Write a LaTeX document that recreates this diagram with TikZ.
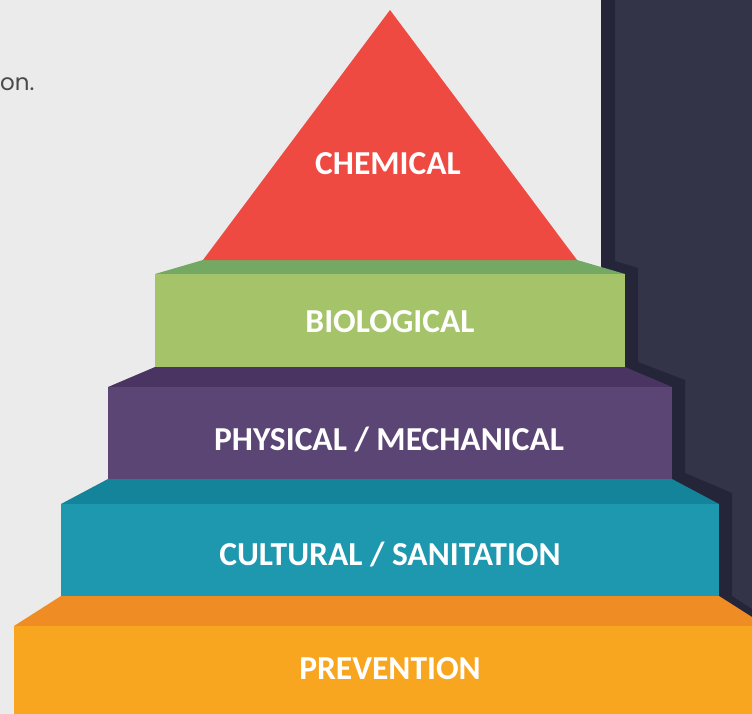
\documentclass[tikz,border=0pt]{standalone}
\usepackage{fontspec}
\setmainfont{Carlito}
\newfontfamily\notefont{Poppins}

\definecolor{bgcol}{HTML}{EBEBEB}
\definecolor{panel}{HTML}{343448}
\definecolor{panelshadow}{HTML}{25253A}
\definecolor{chemred}{HTML}{EF4A42}
\definecolor{biofront}{HTML}{A5C46A}
\definecolor{biotop}{HTML}{74A964}
\definecolor{physfront}{HTML}{5B4574}
\definecolor{phystop}{HTML}{4A3462}
\definecolor{cultfront}{HTML}{1E98AE}
\definecolor{culttop}{HTML}{13849A}
\definecolor{prevfront}{HTML}{F8A51F}
\definecolor{prevtop}{HTML}{EF8C24}
\definecolor{notegrey}{HTML}{4A4A4A}

\begin{document}
\begin{tikzpicture}[x=1pt,y=-1pt,
  tierlabel/.style={text=white,inner sep=0pt,anchor=base,
    font=\fontsize{33.5}{37}\selectfont\bfseries},
  notetext/.style={text=notegrey,inner sep=0pt,anchor=base west,
    font=\notefont\fontsize{23}{26}\selectfont}]
\useasboundingbox (0,0) rectangle (752,714);
\clip (0,0) rectangle (752,714);

% page and dark side panel with its stepped shadow
\fill[bgcol] (0,0) rectangle (752,714);
\fill[panel] (601,0) rectangle (752,714);
\fill[panelshadow] (601,0) -- (615,0) -- (615,261) -- (638,268) -- (638,362)
  -- (685,380) -- (685,473) -- (732,493) -- (732,596) -- (752,609)
  -- (752,714) -- (601,714) -- cycle;

% bottom tier: prevention
\fill[prevtop] (61,596) -- (719,596) -- (766,626) -- (14,626) -- cycle;
\fill[prevfront] (14,626) rectangle (766,714);

% cultural / sanitation
\fill[culttop] (108,479) -- (672,479) -- (719,504) -- (61,504) -- cycle;
\fill[cultfront] (61,504) rectangle (719,596);

% physical / mechanical
\fill[phystop] (155,367) -- (625,367) -- (672,387) -- (108,387) -- cycle;
\fill[physfront] (108,387) rectangle (672,479);

% biological
\fill[biotop] (203,260) -- (577,260) -- (625,274) -- (155,274) -- cycle;
\fill[biofront] (155,274) rectangle (625,367);

% chemical apex
\fill[chemred] (390,10) -- (577,260) -- (203,260) -- cycle;

% tier labels
\node[tierlabel] (chem) at (388,175) {CHEMICAL};
\node[tierlabel] (bio)  at (390,332) {BIOLOGICAL};
\node[tierlabel] (phys) at (389,450) {PHYSICAL / MECHANICAL};
\node[tierlabel] (cult) at (390,565) {CULTURAL / SANITATION};
\node[tierlabel] (prev) at (390,679) {PREVENTION};

% trailing text from the left column
\node[notetext] (note) at (0,91) {on.};
\end{tikzpicture}
\end{document}
